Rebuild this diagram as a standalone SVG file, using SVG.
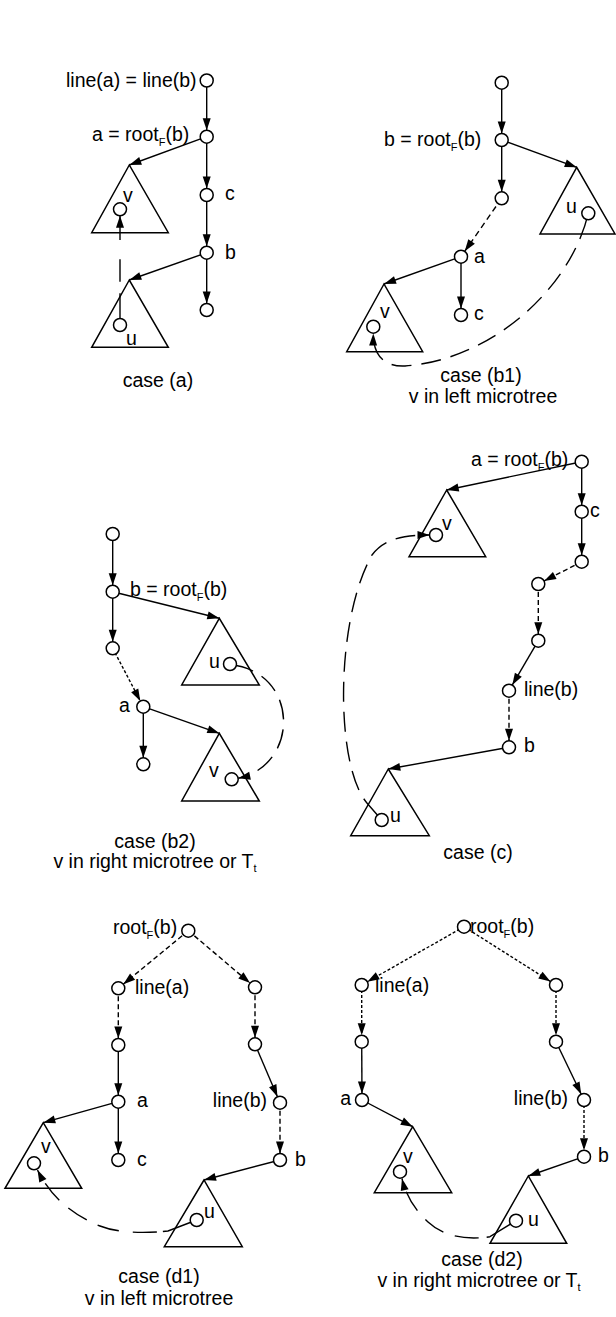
<svg xmlns="http://www.w3.org/2000/svg" width="616" height="1317" viewBox="0 0 616 1317">
<style>
.nd{fill:#fff;stroke:#000;stroke-width:1.5}
.tri{fill:none;stroke:#000;stroke-width:1.5}
.e{fill:none;stroke:#000;stroke-width:1.4}
.ds{stroke-dasharray:5 3}
.dt{stroke-dasharray:3 2}
.at{marker-end:url(#ah)}
.an{marker-end:url(#ahn)}
text{font-family:"Liberation Sans",Arial,Helvetica,sans-serif;font-size:19.5px;fill:#000}
.sub{font-size:11px}
.cap{text-anchor:middle}
.end{text-anchor:end}
</style>
<defs>
<marker id="ah" markerWidth="13" markerHeight="9" refX="12" refY="4" orient="auto" markerUnits="userSpaceOnUse" overflow="visible"><path d="M0,0 L12,4 L0,8 z" fill="#000"/></marker>
<marker id="ahn" markerWidth="13" markerHeight="9" refX="18.5" refY="4" orient="auto" markerUnits="userSpaceOnUse" overflow="visible"><path d="M0,0 L12,4 L0,8 z" fill="#000"/></marker>
</defs>

<!-- triangles (microtrees) -->
<g id="a-tri-v"><polygon class="tri" points="129.3,165 91.7,232.7 168.3,232.7"/></g>
<g id="a-tri-u"><polygon class="tri" points="129.3,280 91.7,347.3 168.3,347.3"/></g>
<g id="b1-tri-u"><polygon class="tri" points="576.7,167.3 540,234 615,234"/></g>
<g id="b1-tri-v"><polygon class="tri" points="384,284 346.7,351.7 422.7,351.7"/></g>
<g id="b2-tri-u"><polygon class="tri" points="219.3,618.3 181.7,685 259.3,685"/></g>
<g id="b2-tri-v"><polygon class="tri" points="219.3,733.3 181.7,801 259.3,801"/></g>
<g id="c-tri-v"><polygon class="tri" points="446.7,490 409,556.7 485.7,556.7"/></g>
<g id="c-tri-u"><polygon class="tri" points="388.3,769 350.7,835.7 429.3,835.7"/></g>
<g id="d1-tri-v"><polygon class="tri" points="43.3,1122.7 5,1188.3 81.7,1188.3"/></g>
<g id="d1-tri-u"><polygon class="tri" points="204,1180 164.3,1246.7 242.3,1246.7"/></g>
<g id="d2-tri-v"><polygon class="tri" points="412.7,1126.7 374.3,1192.7 451.7,1192.7"/></g>
<g id="d2-tri-u"><polygon class="tri" points="528.3,1176 490,1243.3 566.7,1243.3"/></g>

<g id="connectors">
<!-- case (a) -->
<line class="e an" x1="206.7" y1="80.5" x2="206.7" y2="136.7"/>
<line class="e at" x1="206.7" y1="136.7" x2="129.3" y2="165"/>
<line class="e an" x1="206.7" y1="136.7" x2="206.7" y2="195"/>
<line class="e an" x1="206.7" y1="195" x2="206.7" y2="252.7"/>
<line class="e at" x1="206.7" y1="252.7" x2="129.3" y2="280"/>
<line class="e an" x1="206.7" y1="252.7" x2="206.7" y2="310"/>
<path class="e an" style="stroke-dasharray:31.7 11.6 22.4 19.3 60" d="M120,325 L120,209.3"/>
<!-- case (b1) -->
<line class="e an" x1="501.7" y1="82.7" x2="501.7" y2="140"/>
<line class="e at" x1="501.7" y1="140" x2="576.7" y2="167.3"/>
<line class="e an" x1="501.7" y1="140" x2="501.7" y2="198.3"/>
<line class="e an" style="stroke-dasharray:6 4" x1="501.7" y1="198.3" x2="461" y2="256.7"/>
<line class="e at" x1="461" y1="256.7" x2="384" y2="284"/>
<line class="e an" x1="461" y1="256.7" x2="461" y2="315"/>
<path class="e at" style="stroke-dasharray:27 10 20 10 20 10 20 10 20 10 20 10 20 10 20 10 20 10 20 10 20 10 40" d="M588.3,213.3 C570,290 490,360 405,366 C385,367 373,356 373.3,333.5"/>
<!-- case (b2) -->
<line class="e an" x1="112.7" y1="534" x2="112.7" y2="591.7"/>
<line class="e at" x1="112.7" y1="591.7" x2="219.3" y2="618.3"/>
<line class="e an" x1="112.7" y1="591.7" x2="112.7" y2="648.3"/>
<line class="e an dt" x1="112.7" y1="648.3" x2="143.3" y2="706.7"/>
<line class="e at" x1="143.3" y1="706.7" x2="219.3" y2="733.3"/>
<line class="e an" x1="143.3" y1="706.7" x2="143.3" y2="764.3"/>
<path class="e at" style="stroke-dasharray:24 10 20 10 20 10 20 10 20 10 40" d="M230,664.5 C300,672 300,765 238.3,778.3"/>
<!-- case (c) -->
<line class="e at" x1="581.7" y1="461.7" x2="446.7" y2="490"/>
<line class="e an" x1="581.7" y1="461.7" x2="581.7" y2="511.7"/>
<line class="e an" x1="581.7" y1="511.7" x2="581.7" y2="561.7"/>
<line class="e an ds" x1="581.7" y1="561.7" x2="538.3" y2="584"/>
<line class="e an ds" x1="538.3" y1="584" x2="538.3" y2="640.7"/>
<line class="e an" x1="538.3" y1="640.7" x2="509" y2="690.7"/>
<line class="e an ds" x1="509" y1="690.7" x2="509" y2="747.3"/>
<line class="e at" x1="509" y1="747.3" x2="388.3" y2="769"/>
<path class="e at" style="stroke-dasharray:28 10 20 10 20 10 20 10 20 10 20 10 20 10 20 10 20 10 20 10 20 10 20 10 20 10 40" d="M381.7,820 L366.7,802.7 C335,765 335,620 372,555 C385,538 405,535 429.5,535"/>
<!-- case (d1) -->
<line class="e an ds" x1="188.3" y1="930.7" x2="118.3" y2="988.3"/>
<line class="e an ds" x1="188.3" y1="930.7" x2="255" y2="987.3"/>
<line class="e an ds" x1="118.3" y1="988.3" x2="118.3" y2="1045"/>
<line class="e an" x1="118.3" y1="1045" x2="118.3" y2="1101.7"/>
<line class="e an" x1="118.3" y1="1101.7" x2="118.3" y2="1160"/>
<line class="e at" x1="118.3" y1="1101.7" x2="43.3" y2="1122.7"/>
<line class="e an ds" x1="255" y1="987.3" x2="255" y2="1044.3"/>
<line class="e an" x1="255" y1="1044.3" x2="280" y2="1102.7"/>
<line class="e an ds" x1="280" y1="1102.7" x2="280" y2="1160"/>
<line class="e at" x1="280" y1="1160" x2="204" y2="1180"/>
<path class="e at" style="stroke-dasharray:36 6 24 14 22 12 22 12 22 12 40" d="M196.7,1220 L168,1231 C150,1233 120,1234 100,1226 C70,1214 50,1195 37.5,1170"/>
<!-- case (d2) -->
<line class="e an dt" x1="464" y1="926.7" x2="361.7" y2="985"/>
<line class="e an dt" x1="464" y1="926.7" x2="556" y2="985"/>
<line class="e an dt" x1="361.7" y1="985" x2="361.7" y2="1041.7"/>
<line class="e an" x1="361.7" y1="1041.7" x2="362" y2="1100"/>
<line class="e at" x1="362" y1="1100" x2="412.7" y2="1126.7"/>
<line class="e an dt" x1="556" y1="985" x2="556" y2="1041.7"/>
<line class="e an" x1="556" y1="1041.7" x2="584" y2="1100"/>
<line class="e an dt" x1="584" y1="1100" x2="584" y2="1156.7"/>
<line class="e at" x1="584" y1="1156.7" x2="528.3" y2="1176"/>
<path class="e at" style="stroke-dasharray:34 8 24 12 22 12 22 12 40" d="M516,1220.7 L490,1236.7 C470,1240 445,1238 428,1222 C415,1210 406,1196 402,1178.5"/>
</g>

<!-- case (a) nodes -->
<g id="a-line"><circle class="nd" cx="206.7" cy="80.5" r="6.5"/><text x="66" y="87">line(a) = line(b)</text></g>
<g id="a-root"><circle class="nd" cx="206.7" cy="136.7" r="6.5"/><text x="92" y="141">a = root<tspan class="sub" dy="5">F</tspan><tspan dy="-5">(b)</tspan></text></g>
<g id="a-v"><circle class="nd" cx="120" cy="209.3" r="6.5"/><text x="123" y="202">v</text></g>
<g id="a-c"><circle class="nd" cx="206.7" cy="195" r="6.5"/><text x="225" y="200">c</text></g>
<g id="a-b"><circle class="nd" cx="206.7" cy="252.7" r="6.5"/><text x="225" y="259">b</text></g>
<g id="a-leaf"><circle class="nd" cx="206.7" cy="310" r="6.5"/></g>
<g id="a-u"><circle class="nd" cx="120" cy="325" r="6.5"/><text x="126" y="345">u</text></g>

<!-- case (b1) nodes -->
<g id="b1-top"><circle class="nd" cx="501.7" cy="82.7" r="6.5"/></g>
<g id="b1-root"><circle class="nd" cx="501.7" cy="140" r="6.5"/><text x="384" y="146">b = root<tspan class="sub" dy="5">F</tspan><tspan dy="-5">(b)</tspan></text></g>
<g id="b1-mid"><circle class="nd" cx="501.7" cy="198.3" r="6.5"/></g>
<g id="b1-u"><circle class="nd" cx="588.3" cy="213.3" r="6.5"/><text x="566" y="213">u</text></g>
<g id="b1-a"><circle class="nd" cx="461" cy="256.7" r="6.5"/><text x="474" y="263">a</text></g>
<g id="b1-c"><circle class="nd" cx="461" cy="315" r="6.5"/><text x="474" y="320">c</text></g>
<g id="b1-v"><circle class="nd" cx="373.3" cy="326.7" r="6.5"/><text x="380" y="318">v</text></g>

<!-- case (b2) nodes -->
<g id="b2-top"><circle class="nd" cx="112.7" cy="534" r="6.5"/></g>
<g id="b2-root"><circle class="nd" cx="112.7" cy="591.7" r="6.5"/><text x="130" y="596">b = root<tspan class="sub" dy="5">F</tspan><tspan dy="-5">(b)</tspan></text></g>
<g id="b2-mid"><circle class="nd" cx="112.7" cy="648.3" r="6.5"/></g>
<g id="b2-u"><circle class="nd" cx="230" cy="664" r="6.5"/><text x="209" y="668">u</text></g>
<g id="b2-a"><circle class="nd" cx="143.3" cy="706.7" r="6.5"/><text x="119" y="712">a</text></g>
<g id="b2-leaf"><circle class="nd" cx="143.3" cy="764.3" r="6.5"/></g>
<g id="b2-v"><circle class="nd" cx="231.7" cy="779.3" r="6.5"/><text x="209" y="777">v</text></g>

<!-- case (c) nodes -->
<g id="c-root"><circle class="nd" cx="581.7" cy="461.7" r="6.5"/><text x="471" y="466">a = root<tspan class="sub" dy="5">F</tspan><tspan dy="-5">(b)</tspan></text></g>
<g id="c-c"><circle class="nd" cx="581.7" cy="511.7" r="6.5"/><text x="590" y="517">c</text></g>
<g id="c-n1"><circle class="nd" cx="581.7" cy="561.7" r="6.5"/></g>
<g id="c-n2"><circle class="nd" cx="538.3" cy="584" r="6.5"/></g>
<g id="c-n3"><circle class="nd" cx="538.3" cy="640.7" r="6.5"/></g>
<g id="c-lineb"><circle class="nd" cx="509" cy="690.7" r="6.5"/><text x="524" y="696">line(b)</text></g>
<g id="c-b"><circle class="nd" cx="509" cy="747.3" r="6.5"/><text x="524" y="752">b</text></g>
<g id="c-v"><circle class="nd" cx="436" cy="535" r="6.5"/><text x="442" y="530">v</text></g>
<g id="c-u"><circle class="nd" cx="381.7" cy="820" r="6.5"/><text x="390" y="822">u</text></g>

<!-- case (d1) nodes -->
<g id="d1-root"><circle class="nd" cx="188.3" cy="930.7" r="6.5"/><text x="113" y="934">root<tspan class="sub" dy="5">F</tspan><tspan dy="-5">(b)</tspan></text></g>
<g id="d1-linea"><circle class="nd" cx="118.3" cy="988.3" r="6.5"/><text x="135" y="994">line(a)</text></g>
<g id="d1-l2"><circle class="nd" cx="118.3" cy="1045" r="6.5"/></g>
<g id="d1-a"><circle class="nd" cx="118.3" cy="1101.7" r="6.5"/><text x="137" y="1107">a</text></g>
<g id="d1-c"><circle class="nd" cx="118.3" cy="1160" r="6.5"/><text x="137" y="1166">c</text></g>
<g id="d1-r1"><circle class="nd" cx="255" cy="987.3" r="6.5"/></g>
<g id="d1-r2"><circle class="nd" cx="255" cy="1044.3" r="6.5"/></g>
<g id="d1-lineb"><circle class="nd" cx="280" cy="1102.7" r="6.5"/><text class="end" x="267" y="1107">line(b)</text></g>
<g id="d1-b"><circle class="nd" cx="280" cy="1160" r="6.5"/><text x="295" y="1166">b</text></g>
<g id="d1-v"><circle class="nd" cx="34" cy="1163.3" r="6.5"/><text x="41" y="1153">v</text></g>
<g id="d1-u"><circle class="nd" cx="196.7" cy="1220" r="6.5"/><text x="204" y="1218">u</text></g>

<!-- case (d2) nodes -->
<g id="d2-root"><circle class="nd" cx="464" cy="926.7" r="6.5"/><text x="470" y="933">root<tspan class="sub" dy="5">F</tspan><tspan dy="-5">(b)</tspan></text></g>
<g id="d2-linea"><circle class="nd" cx="361.7" cy="985" r="6.5"/><text x="375" y="992">line(a)</text></g>
<g id="d2-l2"><circle class="nd" cx="361.7" cy="1041.7" r="6.5"/></g>
<g id="d2-a"><circle class="nd" cx="362" cy="1100" r="6.5"/><text class="end" x="351" y="1105">a</text></g>
<g id="d2-r1"><circle class="nd" cx="556" cy="985" r="6.5"/></g>
<g id="d2-r2"><circle class="nd" cx="556" cy="1041.7" r="6.5"/></g>
<g id="d2-lineb"><circle class="nd" cx="584" cy="1100" r="6.5"/><text class="end" x="568" y="1105">line(b)</text></g>
<g id="d2-b"><circle class="nd" cx="584" cy="1156.7" r="6.5"/><text x="598" y="1162">b</text></g>
<g id="d2-v"><circle class="nd" cx="400" cy="1171.7" r="6.5"/><text x="403" y="1163">v</text></g>
<g id="d2-u"><circle class="nd" cx="516" cy="1220.7" r="6.5"/><text x="528" y="1226">u</text></g>

<g id="captions">
<text class="cap" x="158" y="387">case (a)</text>
<text class="cap" x="481" y="382">case (b1)</text>
<text class="cap" x="483" y="403">v in left microtree</text>
<text class="cap" x="155" y="848">case (b2)</text>
<text class="cap" x="155" y="868">v in right microtree or T<tspan class="sub" dy="4">t</tspan></text>
<text class="cap" x="478" y="859">case (c)</text>
<text class="cap" x="159" y="1283">case (d1)</text>
<text class="cap" x="159" y="1305">v in left microtree</text>
<text class="cap" x="482" y="1266">case (d2)</text>
<text class="cap" x="479" y="1287">v in right microtree or T<tspan class="sub" dy="4">t</tspan></text>
</g>
</svg>
